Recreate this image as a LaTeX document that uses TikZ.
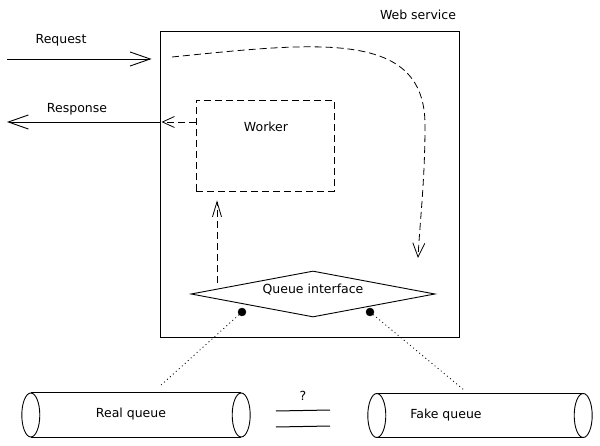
\documentclass[tikz,border=0pt]{standalone}
\usepackage{fontspec}
\setmainfont{DejaVu Sans}
\usepackage{tikz}
\usetikzlibrary{arrows.meta,shapes.geometric}
\usepackage{xcolor}

\tikzset{
  dashedline/.style={line width=0.8pt,dash pattern=on 7pt off 4pt},
  pipeline/.style={line width=0.9pt},
  pipebody/.style={minimum height=44pt,inner sep=0pt}
}

\begin{document}
\begin{tikzpicture}[x=1pt,y=-1pt,>={Straight Barb[length=12pt,width=11pt]},font=\fontsize{12.5}{15}\selectfont]
\useasboundingbox (0,0) rectangle (600,446);
%%%WEB SERVICE
\node[draw,line width=1pt,minimum width=299pt,minimum height=306pt,inner sep=0pt] (ws) at (309.5,185) {};
\node (wslabel) at (418,15) {Web service};
%%%WORKER
\node[draw,dashedline,minimum width=138pt,minimum height=91pt,inner sep=0pt] (worker) at (265,145.5) {};
\node (workerlabel) at (266,127) {Worker};
%%%QUEUE INTERFACE
\node[diamond,draw,line width=0.9pt,minimum width=244pt,minimum height=46pt,inner sep=0pt,aspect=5.3] (qi) at (313,294) {};
\node (qilabel) at (313,290) {Queue interface};
\coordinate (realport) at (242,312);
\coordinate (fakeport) at (370,312);
\filldraw [black] (realport) circle (4) (fakeport) circle (4);
%%%QUEUES
\node[pipebody,minimum width=210pt] (realq) at (136,415) {};
\node (reallabel) at (131,414) {Real queue};
\draw[pipeline] (realq.north west) -- (realq.north east) (realq.south west) -- (realq.south east);
\draw[pipeline] (realq.west) ellipse (9 and 22) (realq.east) ellipse (9 and 22);
\node[pipebody,minimum width=206pt] (fakeq) at (480,415.5) {};
\node (fakelabel) at (446,415) {Fake queue};
\draw[pipeline] (fakeq.north west) -- (fakeq.north east) (fakeq.south west) -- (fakeq.south east);
\draw[pipeline] (fakeq.west) ellipse (9 and 22) (fakeq.east) ellipse (9 and 22);
\node (neq) at (303,396) {?};
\draw[line width=1pt] (276,411) -- (330,410) (276,427) -- (330,426);
%%%PORT LINKS
\coordinate (realtop) at (160,386);
\coordinate (faketop) at (464,390);
\draw[line width=0.8pt,dash pattern=on 1pt off 3pt] (realport) -- (realtop);
\draw[line width=0.8pt,dash pattern=on 1pt off 3pt] (fakeport) -- (faketop);
%%%REQUEST AND RESPONSE
\coordinate (reqin) at (7,59);
\coordinate (respout) at (7,122);
\node (reqlabel) at (61,40) {Request};
\node (resplabel) at (77,109) {Response};
\draw[->,line width=0.9pt,>={Straight Barb[length=20pt,width=14pt]},shorten >=8pt] (reqin) -- (ws.west |- reqin);
\draw[->,line width=0.9pt,>={Straight Barb[length=20pt,width=14pt]}] (ws.west |- respout) -- (respout);
\draw[->,dashedline,shorten >=2pt] (worker.west |- respout) -- (ws.west |- respout);
%%%FLOWS
\coordinate (flowstart) at (172,57);
\coordinate (flowend) at (418,258);
\coordinate (upfrom) at (217,283);
\draw[->,dashedline,>={Straight Barb[length=14pt,width=12pt]}] (flowstart) .. controls (320,42) and (425,30) .. (425,125) .. controls (425,180) and (420,220) .. (flowend);
\draw[->,dashedline,>={Straight Barb[length=15pt,width=9pt]},shorten >=9pt] (upfrom) -- (worker.south -| upfrom);
\end{tikzpicture}
\end{document}
